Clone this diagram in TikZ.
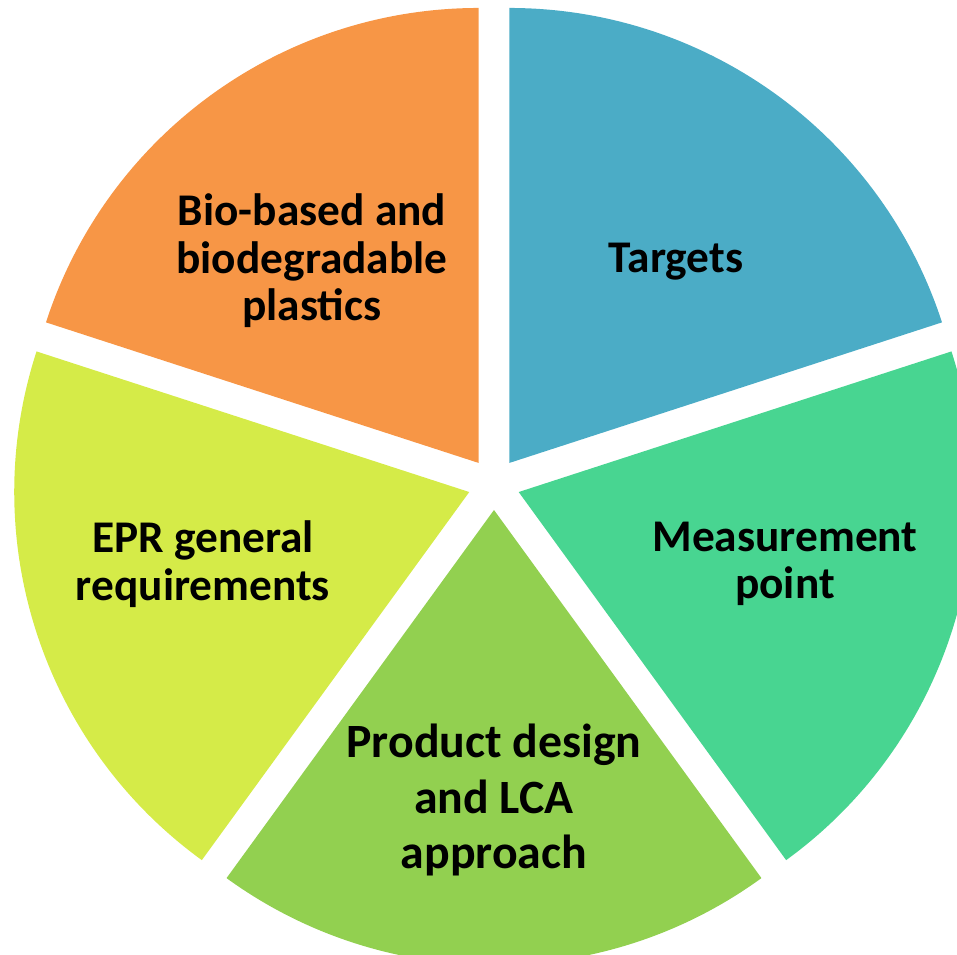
\documentclass[tikz,border=0pt]{standalone}
\usepackage{fontspec}
\setmainfont{Carlito}
\definecolor{targetblue}{RGB}{75,172,198}
\definecolor{measgreen}{RGB}{72,213,145}
\definecolor{prodgreen}{RGB}{146,208,80}
\definecolor{eprlime}{RGB}{213,235,72}
\definecolor{bioorange}{RGB}{247,150,70}
\begin{document}
\begin{tikzpicture}[lbl/.style={font=\bfseries\fontsize{12.9}{13.5}\selectfont, align=center, text=black}]
\useasboundingbox (-4.94,-4.71) rectangle (4.63,4.84);
%slices
	\def\r{4.55}
	\def\d{0.26}
	\foreach \a/\col in {18/targetblue, -54/measgreen, -126/prodgreen, 162/eprlime, 90/bioorange}{
		\fill[\col] ({\d*cos(\a+36)}, {\d*sin(\a+36)}) -- ++(\a:\r) arc[start angle=\a, end angle=\a+72, radius=\r] -- cycle;
	}

%labels
	\node[lbl] (targets) at (1.82, 2.22) {Targets};
	\node[lbl] (bio) at (-1.82, 2.23) {Bio-based and\\biodegradable\\plastics};
	\node[lbl] (epr) at (-2.91, -0.80) {EPR general\\requirements};
	\node[lbl] (meas) at (2.91, -0.80) {Measurement\\point};
	\node[lbl, font=\bfseries\fontsize{13.6}{15.9}\selectfont] (prod) at (0, -3.16) {Product design\\and LCA\\approach};
\end{tikzpicture}
\end{document}
